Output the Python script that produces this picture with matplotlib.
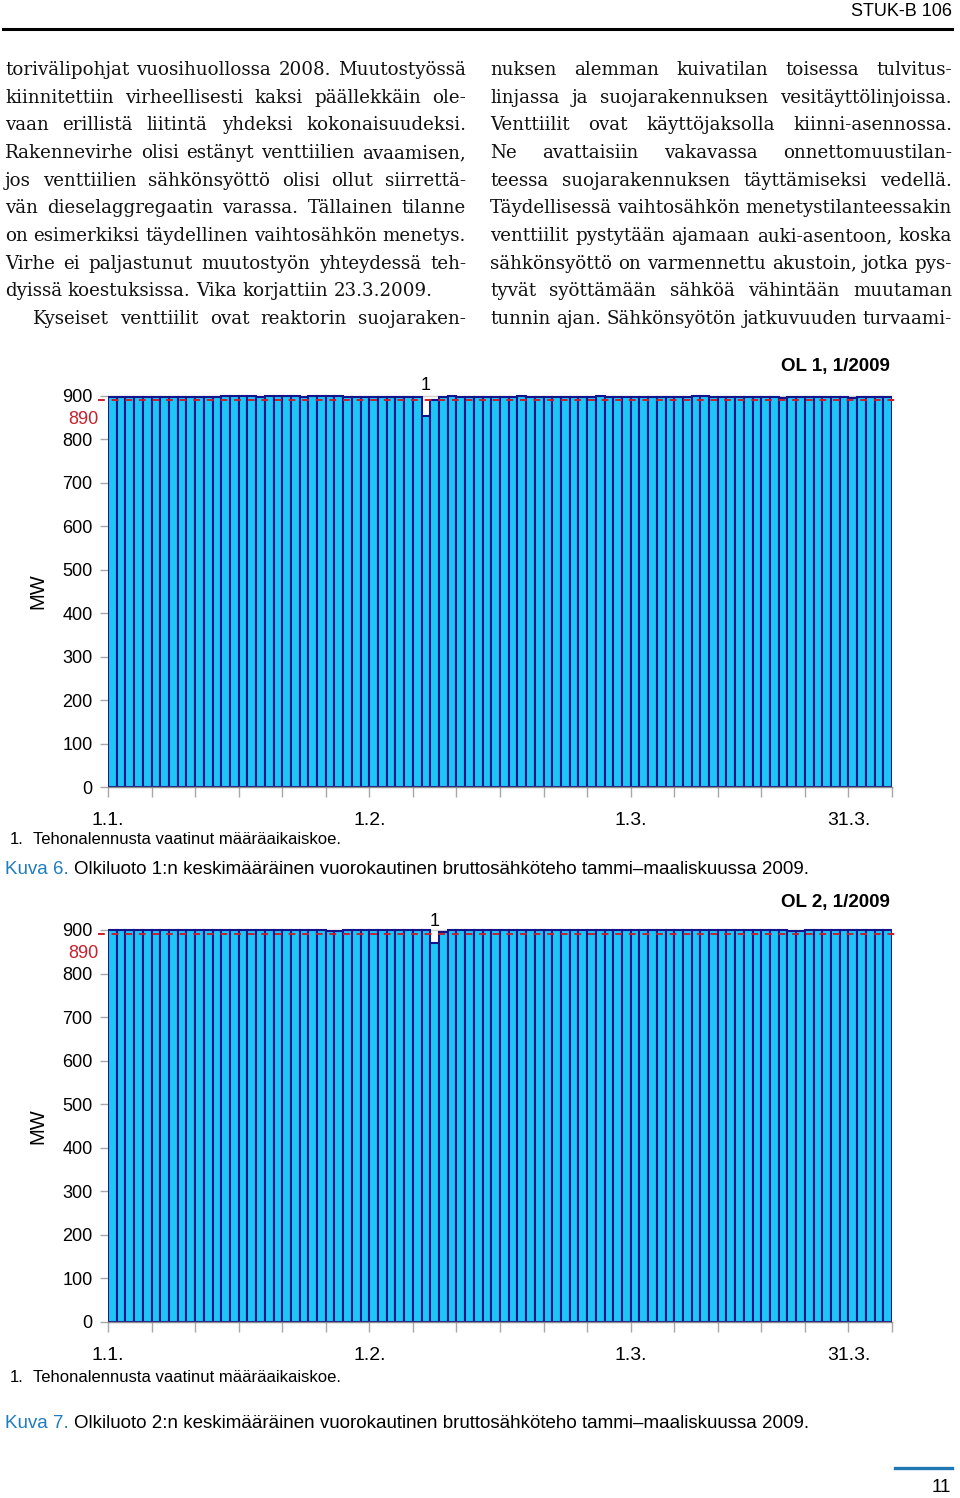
import matplotlib
matplotlib.use("Agg")
import matplotlib.pyplot as plt
import matplotlib.font_manager as fm
from matplotlib.lines import Line2D
import numpy as np

# ---------------- data ----------------
days = np.arange(90)
ol1_mw = [
    898, 897, 898, 898, 897, 898, 898, 897, 898, 898,
    897, 898, 898, 899, 900, 900, 899, 898, 899, 900,
    900, 899, 898, 900, 900, 900, 899, 898, 898, 897,
    898, 898, 897, 898, 898, 898, 855, 890, 898, 899,
    898, 898, 898, 897, 898, 898, 898, 899, 898, 898,
    898, 898, 898, 898, 898, 898, 899, 898, 898, 898,
    898, 898, 898, 898, 898, 898, 898, 900, 899, 898,
    898, 898, 898, 898, 898, 898, 898, 896, 897, 898,
    898, 898, 898, 898, 897, 896, 897, 898, 897, 897]
ol2_mw = [
    900, 901, 900, 901, 901, 900, 901, 901, 901, 900,
    900, 900, 901, 900, 901, 901, 900, 901, 901, 901,
    900, 901, 901, 900, 899, 898, 898, 899, 900, 899,
    900, 900, 899, 899, 899, 899, 899, 870, 896, 900,
    900, 900, 900, 900, 901, 901, 900, 900, 900, 900,
    900, 900, 900, 900, 900, 900, 900, 900, 900, 900,
    900, 900, 900, 900, 901, 900, 900, 900, 900, 900,
    900, 900, 900, 900, 900, 900, 901, 899, 898, 898,
    899, 900, 900, 899, 899, 900, 900, 899, 899, 900]
ytick_vals = [0, 100, 200, 300, 400, 500, 600, 700, 800, 900]
xtick_step = 5
xlabel_text = ["1.1.", "1.2.", "1.3.", "31.3."]
xlabel_pos = [0, 30, 60, 85]
ref_level = 890
note_day_ol1 = 36
note_day_ol2 = 37
titles = ["OL 1, 1/2009", "OL 2, 1/2009"]
footnote = "Tehonalennusta vaatinut määräaikaiskoe."
captions = [("Kuva 6.", "Olkiluoto 1:n keskimääräinen vuorokautinen bruttosähköteho tammi–maaliskuussa 2009."),
            ("Kuva 7.", "Olkiluoto 2:n keskimääräinen vuorokautinen bruttosähköteho tammi–maaliskuussa 2009.")]

left_col = [
    ("torivälipohjat vuosihuollossa 2008. Muutostyössä", 0, True),
    ("kiinnitettiin virheellisesti kaksi päällekkäin ole-", 0, True),
    ("vaan erillistä liitintä yhdeksi kokonaisuudeksi.", 0, True),
    ("Rakennevirhe olisi estänyt venttiilien avaamisen,", 0, True),
    ("jos venttiilien sähkönsyöttö olisi ollut siirrettä-", 0, True),
    ("vän dieselaggregaatin varassa. Tällainen tilanne", 0, True),
    ("on esimerkiksi täydellinen vaihtosähkön menetys.", 0, True),
    ("Virhe ei paljastunut muutostyön yhteydessä teh-", 0, True),
    ("dyissä koestuksissa. Vika korjattiin 23.3.2009.", 0, False),
    ("Kyseiset venttiilit ovat reaktorin suojaraken-", 28, True),
]
right_col = [
    ("nuksen alemman kuivatilan toisessa tulvitus-", 0, True),
    ("linjassa ja suojarakennuksen vesitäyttölinjoissa.", 0, True),
    ("Venttiilit ovat käyttöjaksolla kiinni-asennossa.", 0, True),
    ("Ne avattaisiin vakavassa onnettomuustilan-", 0, True),
    ("teessa suojarakennuksen täyttämiseksi vedellä.", 0, True),
    ("Täydellisessä vaihtosähkön menetystilanteessakin", 0, True),
    ("venttiilit pystytään ajamaan auki-asentoon, koska", 0, True),
    ("sähkönsyöttö on varmennettu akustoin, jotka pys-", 0, True),
    ("tyvät syöttämään sähköä vähintään muutaman", 0, True),
    ("tunnin ajan. Sähkönsyötön jatkuvuuden turvaami-", 0, True),
]

# ---------------- fonts ----------------
def pick(names, default="DejaVu Sans"):
    for n in names:
        try:
            fm.findfont(fm.FontProperties(family=n), fallback_to_default=False)
            return n
        except Exception:
            pass
    return default

SANS = pick(["Liberation Sans", "Arial"])
NARROW = pick(["Liberation Sans Narrow", "DejaVu Sans Condensed", "Liberation Sans"])
SERIF = pick(["DejaVu Serif", "Liberation Serif"], "DejaVu Serif")

W, H, DPI = 960, 1498, 100
fig = plt.figure(figsize=(W / DPI, H / DPI), dpi=DPI)
fig.patch.set_facecolor("white")
renderer = fig.canvas.get_renderer()

def fx(x):
    return x / W

def fy(y):
    return 1 - y / H

def text_w(s, family, size, weight="normal"):
    prop = fm.FontProperties(family=family, size=size, weight=weight)
    return renderer.get_text_width_height_descent(s, prop, ismath=False)[0]

def fit_size(s, family, width, weight="normal"):
    w = text_w(s, family, 10, weight)
    return 10 * width / w

BAR_FACE = "#1ec6f6"
BAR_EDGE = "#14148a"
RED = "#c8202c"
BLUE = "#1f7cc0"
GREY = "#a8a8a8"

# ---------------- header ----------------
fig.text(fx(952), fy(12), "STUK-B 106", ha="right", va="center",
         family=NARROW, fontsize=13)
fig.add_artist(Line2D([fx(3), fx(952)], [fy(29), fy(29)], color="black", lw=2.2))

# ---------------- body text (justified) ----------------
def col_natural(lines, fs):
    worst = 0
    for txt, ind, just in lines:
        words = txt.split(" ")
        tot = sum(text_w(w, SERIF, fs) for w in words) + text_w(" ", SERIF, fs) * 0.9 * (len(words) - 1)
        avail = 461 - ind
        worst = max(worst, tot / avail)
    return worst

fs_body = 12.0
ratio = max(col_natural(left_col, fs_body), col_natural(right_col, fs_body))
fs_body = min(fs_body / ratio * 0.995, 13.2)

def draw_column(lines, x0, x1, base0, dy, fs):
    for i, (txt, ind, just) in enumerate(lines):
        y = base0 + i * dy
        words = txt.split(" ")
        widths = [text_w(w, SERIF, fs) for w in words]
        start = x0 + ind
        if just and len(words) > 1:
            gap = (x1 - start - sum(widths)) / (len(words) - 1)
        else:
            gap = text_w(" ", SERIF, fs)
        x = start
        for w, ww in zip(words, widths):
            fig.text(fx(x), fy(y), w, ha="left", va="baseline",
                     family=SERIF, fontsize=fs, color="#111111")
            x += ww + gap

draw_column(left_col, 5, 466, 75, 27.67, fs_body)
draw_column(right_col, 490, 952, 75, 27.67, fs_body)

# ---------------- charts ----------------
YMAX = 910

def make_chart(values, zero_px, top900_px, title, title_y, note_day, fn_y, cap, cap_y, mw_y):
    ppm = (zero_px - top900_px) / 900.0
    top_px = zero_px - YMAX * ppm
    ax = fig.add_axes([fx(108), fy(zero_px), 784 / W, (zero_px - top_px) / H])
    ax.set_xlim(0, 90)
    ax.set_ylim(0, YMAX)
    ax.bar(days + 0.5, values, width=1.0, color=BAR_FACE, edgecolor=BAR_EDGE,
           linewidth=1.5, zorder=3)
    ax.axhline(900, color="#cfcfcf", lw=1.0, zorder=1)
    ax.plot([-1.2, 90.7], [ref_level, ref_level], color=RED, lw=1.4,
            ls=(0, (3.5, 3.5)), clip_on=False, zorder=5)
    for s in ["left", "right", "top"]:
        ax.spines[s].set_visible(False)
    ax.spines["bottom"].set_color("#8a8a8a")
    ax.spines["bottom"].set_linewidth(1.0)
    ax.spines["bottom"].set_zorder(6)
    ax.set_yticks(ytick_vals)
    ax.set_yticklabels([str(v) for v in ytick_vals], family=SANS, fontsize=13)
    ax.tick_params(axis="y", length=6, width=1, color=GREY, pad=5, labelcolor="black")
    xt = list(range(0, 91, xtick_step))
    lab = ["" for _ in xt]
    for t, p in zip(xlabel_text, xlabel_pos):
        lab[xt.index(p)] = t
    ax.set_xticks(xt)
    ax.set_xticklabels(lab, family=NARROW, fontsize=14)
    ax.tick_params(axis="x", length=7, width=1, color=GREY, pad=11, labelcolor="black")
    # 890 red label
    ax.text(-1.1, 847, str(ref_level), ha="right", va="center", color=RED,
            family=SANS, fontsize=13, clip_on=False)
    # note marker
    ax.text(note_day + 0.5, (zero_px - (title_y + 19)) / ppm, "1", ha="center", va="center",
            family=SANS, fontsize=13, clip_on=False)
    # title
    fig.text(fx(890), fy(title_y), title, ha="right", va="center",
             family=SANS, fontsize=13.5, weight="bold")
    # MW
    fig.text(fx(38), fy(mw_y), "MW", rotation=90, ha="center", va="center",
             family=SANS, fontsize=14.5)
    # footnote
    fs_fn = fit_size(footnote, NARROW, 307)
    fig.text(fx(10), fy(fn_y), "1.", ha="left", va="center", family=NARROW, fontsize=fs_fn)
    fig.text(fx(33), fy(fn_y), footnote, ha="left", va="center", family=NARROW, fontsize=fs_fn)
    # caption
    full = cap[0] + " " + cap[1]
    fs_cap = fit_size(full, NARROW, 808)
    w0 = text_w(cap[0] + " ", NARROW, fs_cap)
    fig.text(fx(5), fy(cap_y), cap[0], ha="left", va="center", family=NARROW,
             fontsize=fs_cap, color=BLUE)
    fig.text(fx(5 + w0), fy(cap_y), cap[1], ha="left", va="center", family=NARROW,
             fontsize=fs_cap, color="black")
    return ax

make_chart(ol1_mw, 787, 396, titles[0], 367, note_day_ol1, 839, captions[0], 870, 591)
make_chart(ol2_mw, 1322, 930, titles[1], 902, note_day_ol2, 1377, captions[1], 1423, 1126)

# ---------------- footer ----------------
fig.add_artist(Line2D([fx(895), fx(952)], [fy(1468), fy(1468)], color="#1f78b4", lw=2.4))
fig.text(fx(951), fy(1488), "11", ha="right", va="center", family=NARROW, fontsize=13.5)

fig.savefig("out.png", dpi=DPI, facecolor="white")
